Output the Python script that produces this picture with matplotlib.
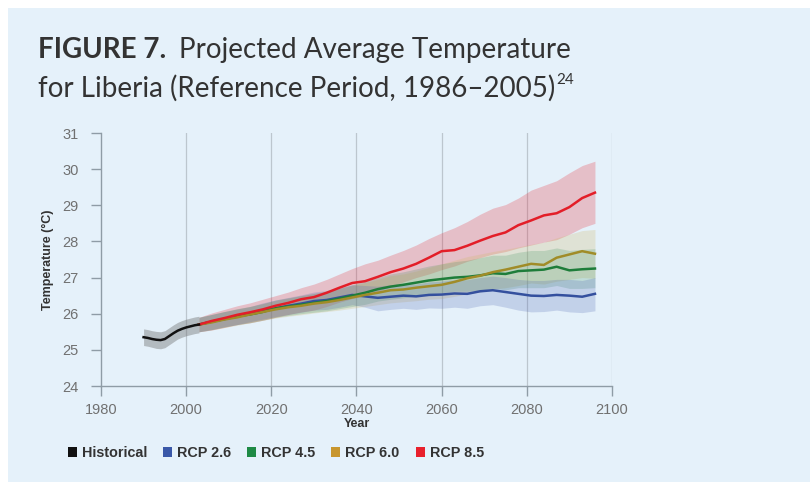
import matplotlib
matplotlib.use('Agg')
import matplotlib.pyplot as plt
from matplotlib.patches import Rectangle, Patch

# historical run
histYears = [1990, 1991, 1992, 1993, 1994, 1995, 1996, 1997, 1998, 1999, 2000, 2001, 2002, 2003]
histMean = [25.35, 25.33, 25.30, 25.28, 25.27, 25.30, 25.38, 25.46, 25.53, 25.58, 25.62, 25.65, 25.68, 25.70]
histLo = [25.12, 25.10, 25.07, 25.04, 25.03, 25.06, 25.14, 25.22, 25.30, 25.35, 25.39, 25.42, 25.45, 25.47]
histHi = [25.58, 25.56, 25.53, 25.51, 25.50, 25.53, 25.61, 25.69, 25.76, 25.81, 25.85, 25.88, 25.91, 25.93]

# projections
projYears = [2003, 2006, 2009, 2012, 2015, 2018, 2021, 2024, 2027, 2030, 2033, 2036, 2039, 2042, 2045, 2048,
             2051, 2054, 2057, 2060, 2063, 2066, 2069, 2072, 2075, 2078, 2081, 2084, 2087, 2090, 2093, 2096]

rcp26Mean = [25.70, 25.78, 25.86, 25.92, 26.00, 26.08, 26.15, 26.22, 26.28, 26.35, 26.38, 26.45, 26.52, 26.48, 26.44, 26.47,
             26.50, 26.48, 26.52, 26.53, 26.56, 26.55, 26.62, 26.65, 26.60, 26.55, 26.50, 26.49, 26.52, 26.50, 26.47, 26.55]
rcp26Lo = [25.50, 25.56, 25.64, 25.70, 25.78, 25.85, 25.92, 25.98, 26.04, 26.10, 26.12, 26.18, 26.25, 26.18, 26.08, 26.12,
           26.15, 26.12, 26.16, 26.15, 26.18, 26.15, 26.22, 26.25, 26.18, 26.10, 26.05, 26.06, 26.10, 26.05, 26.03, 26.08]
rcp26Hi = [25.90, 25.98, 26.06, 26.13, 26.20, 26.30, 26.38, 26.45, 26.52, 26.60, 26.64, 26.72, 26.80, 26.78, 26.76, 26.80,
           26.84, 26.82, 26.88, 26.90, 26.94, 26.94, 27.00, 27.04, 27.00, 26.95, 26.92, 26.92, 26.95, 26.95, 26.92, 27.00]

rcp45Mean = [25.70, 25.78, 25.85, 25.93, 25.98, 26.05, 26.15, 26.20, 26.25, 26.30, 26.35, 26.42, 26.50, 26.58, 26.68, 26.75,
             26.80, 26.86, 26.92, 26.96, 27.00, 27.02, 27.06, 27.12, 27.10, 27.18, 27.20, 27.22, 27.30, 27.20, 27.23, 27.25]
rcp45Lo = [25.50, 25.56, 25.63, 25.70, 25.75, 25.82, 25.90, 25.95, 26.00, 26.04, 26.08, 26.14, 26.20, 26.26, 26.35, 26.40,
           26.44, 26.50, 26.55, 26.58, 26.62, 26.62, 26.65, 26.70, 26.66, 26.72, 26.72, 26.72, 26.78, 26.70, 26.70, 26.72]
rcp45Hi = [25.90, 25.98, 26.06, 26.14, 26.20, 26.28, 26.38, 26.44, 26.50, 26.56, 26.62, 26.70, 26.80, 26.90, 27.00, 27.10,
           27.16, 27.24, 27.32, 27.38, 27.44, 27.48, 27.55, 27.62, 27.62, 27.70, 27.75, 27.75, 27.82, 27.75, 27.78, 27.80]

rcp60Mean = [25.70, 25.76, 25.84, 25.90, 25.98, 26.05, 26.12, 26.18, 26.22, 26.28, 26.32, 26.38, 26.45, 26.52, 26.58, 26.65,
             26.67, 26.72, 26.76, 26.80, 26.88, 26.98, 27.05, 27.15, 27.22, 27.30, 27.38, 27.35, 27.55, 27.64, 27.73, 27.66]
rcp60Lo = [25.50, 25.55, 25.62, 25.68, 25.75, 25.82, 25.88, 25.93, 25.97, 26.02, 26.06, 26.10, 26.15, 26.20, 26.25, 26.30,
           26.33, 26.36, 26.40, 26.42, 26.48, 26.55, 26.60, 26.68, 26.72, 26.78, 26.85, 26.82, 26.90, 26.95, 27.00, 26.98]
rcp60Hi = [25.90, 25.98, 26.06, 26.13, 26.20, 26.28, 26.36, 26.43, 26.50, 26.56, 26.62, 26.70, 26.78, 26.86, 26.95, 27.05,
           27.10, 27.18, 27.28, 27.38, 27.48, 27.58, 27.65, 27.72, 27.78, 27.85, 27.92, 27.98, 28.10, 28.20, 28.30, 28.33]

rcp85Mean = [25.70, 25.80, 25.88, 25.97, 26.04, 26.12, 26.22, 26.30, 26.40, 26.46, 26.58, 26.72, 26.85, 26.90, 27.02, 27.15,
             27.25, 27.38, 27.55, 27.73, 27.76, 27.88, 28.02, 28.15, 28.25, 28.45, 28.58, 28.72, 28.78, 28.95, 29.20, 29.35]
rcp85Lo = [25.50, 25.55, 25.62, 25.70, 25.75, 25.82, 25.90, 25.98, 26.05, 26.10, 26.20, 26.32, 26.42, 26.50, 26.62, 26.75,
           26.88, 27.00, 27.10, 27.22, 27.32, 27.45, 27.55, 27.65, 27.72, 27.82, 27.90, 27.98, 28.05, 28.20, 28.38, 28.50]
rcp85Hi = [25.90, 26.02, 26.12, 26.22, 26.30, 26.40, 26.50, 26.60, 26.72, 26.82, 26.95, 27.10, 27.25, 27.38, 27.48, 27.62,
           27.75, 27.90, 28.08, 28.24, 28.38, 28.55, 28.75, 28.92, 29.02, 29.20, 29.42, 29.55, 29.68, 29.90, 30.10, 30.22]

legendLabels = ['Historical', 'RCP 2.6', 'RCP 4.5', 'RCP 6.0', 'RCP 8.5']
legendColors = ['#111111', '#3a58a8', '#1e8a45', '#c8962e', '#e8202c']

panelColor = '#e5f1fa'
textColor = '#333333'
axisGray = '#8f9ca6'

fig = plt.figure(figsize=(8.1, 4.86), dpi=100)
fig.patch.set_facecolor('white')
fig.patches.append(Rectangle((8 / 810, 4 / 486), 802 / 810, 474 / 486, transform=fig.transFigure,
                             facecolor=panelColor, edgecolor='none', zorder=-10))

# title, two pieces on line 1 plus superscript on line 2
titleFont = 'Lato'
renderer = fig.canvas.get_renderer()
t1 = fig.text(38 / 810, 1 - 50 / 486, 'FIGURE 7.', fontsize=20, fontweight='bold', family=titleFont,
              color=textColor, va='center', ha='left')
bb = t1.get_window_extent(renderer)
fig.text((bb.x1 + 13) / 810, 1 - 50 / 486, 'Projected Average Temperature', fontsize=20, family=titleFont,
         color=textColor, va='center', ha='left')
t3 = fig.text(38 / 810, 1 - 88 / 486, 'for Liberia (Reference Period, 1986\u20132005)', fontsize=20,
              family=titleFont, color=textColor, va='center', ha='left')
bb3 = t3.get_window_extent(renderer)
fig.text((bb3.x1 + 1) / 810, 1 - 80 / 486, '24', fontsize=11, family=titleFont, color=textColor,
         va='center', ha='left')

ax = fig.add_axes([101 / 810, 1 - 386 / 486, 511 / 810, 253 / 486])
ax.set_facecolor('none')

# bands
ax.fill_between(projYears, rcp85Lo, rcp85Hi, color='#e8202c', alpha=0.24, linewidth=0)
ax.fill_between(projYears, rcp60Lo, rcp60Hi, color='#d0b868', alpha=0.25, linewidth=0)
ax.fill_between(projYears, rcp45Lo, rcp45Hi, color='#2e8a50', alpha=0.2, linewidth=0)
ax.fill_between(projYears, rcp26Lo, rcp26Hi, color='#4a60b0', alpha=0.22, linewidth=0)
ax.fill_between(histYears, histLo, histHi, color='#6a6a6a', alpha=0.4, linewidth=0)

# lines
ax.plot(projYears, rcp26Mean, color='#34509e', lw=1.8)
ax.plot(projYears, rcp45Mean, color='#1e7d3a', lw=1.8)
ax.plot(projYears, rcp60Mean, color='#a08c28', lw=1.8)
ax.plot(projYears, rcp85Mean, color='#e31e28', lw=1.8)
ax.plot(histYears, histMean, color='#111111', lw=1.8)

ax.set_xlim(1980, 2100)
ax.set_ylim(24, 31)
ax.set_xticks(range(1980, 2101, 20))
ax.set_yticks(range(24, 32))
for yr in range(2000, 2101, 20):
    ax.axvline(yr, color='#bcc6ce', lw=0.9, zorder=0)

for s in ['top', 'right']:
    ax.spines[s].set_visible(False)
for s in ['left', 'bottom']:
    ax.spines[s].set_color(axisGray)
    ax.spines[s].set_linewidth(1.0)
ax.tick_params(colors=axisGray, labelcolor='#707070', labelsize=10.5, length=7, width=1.0)
ax.tick_params(axis='y', pad=9)
ax.tick_params(axis='x', pad=5)
for lab in ax.get_xticklabels() + ax.get_yticklabels():
    lab.set_family('Liberation Sans')

ax.set_xlabel('Year', fontsize=9, fontweight='bold', color='#333333', family='Liberation Sans', labelpad=1)
ax.set_ylabel('Temperature (\u00b0C)', fontsize=9, fontweight='bold', color='#333333', family='Liberation Sans',
              labelpad=6)

handles = [Patch(facecolor=c, edgecolor='none') for c in legendColors]
fig.legend(handles, legendLabels, loc='center left', bbox_to_anchor=(68 / 810, 1 - 453 / 486), ncol=5,
           frameon=False, borderpad=0, borderaxespad=0, handlelength=0.62, handleheight=0.62,
           handletextpad=0.35, columnspacing=1.1,
           prop={'family': 'Liberation Sans', 'weight': 'bold', 'size': 10.4}, labelcolor='#333333')

fig.savefig('out.png', dpi=100)
